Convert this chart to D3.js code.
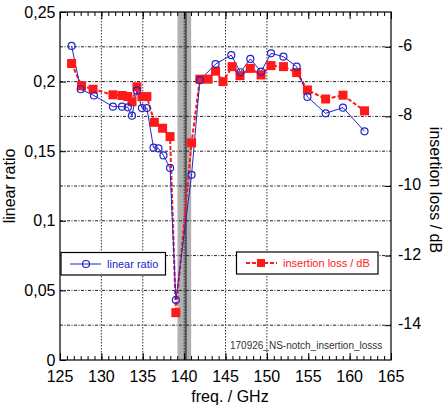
<!DOCTYPE html>
<html>
<head>
<meta charset="utf-8">
<script src="https://cdn.jsdelivr.net/npm/d3@7"></script>
<style>
  body { margin: 0; background: #fff; }
  svg { font-family: "Liberation Sans", Arial, sans-serif; }
</style>
</head>
<body>
<div id="chart"></div>
<script>
// linear ratio (left axis)
var ratioFreq = [126.4, 127.5, 129.1, 131.4, 132.5, 133.2, 133.7, 134.3, 134.9, 135.5, 136.3, 136.9, 137.5, 138.3, 139.0, 140.9, 141.9, 143.8, 145.7, 146.8, 148.0, 149.3, 150.5, 152.0, 153.6, 154.9, 157.1, 159.2, 161.8];
var ratioVal  = [0.2256, 0.1945, 0.190, 0.182, 0.182, 0.1815, 0.1755, 0.1935, 0.181, 0.181, 0.1525, 0.152, 0.147, 0.138, 0.0431, 0.133, 0.201, 0.2126, 0.219, 0.2067, 0.2163, 0.2071, 0.2203, 0.2179, 0.2107, 0.189, 0.1772, 0.1813, 0.1643];
// insertion loss / dB (right axis)
var lossFreq = [126.4, 127.6, 129.0, 131.4, 132.5, 133.2, 133.7, 134.3, 134.9, 135.5, 136.4, 137.4, 138.3, 139.0, 140.9, 141.9, 142.9, 143.8, 144.7, 145.8, 146.75, 148.0, 149.3, 150.5, 152.0, 153.6, 154.9, 157.1, 159.2, 161.8];
var lossVal  = [-6.48, -7.12, -7.22, -7.38, -7.40, -7.43, -7.58, -7.15, -7.43, -7.43, -8.17, -8.34, -8.58, -13.64, -8.76, -6.93, -6.93, -6.70, -7.0, -6.57, -6.83, -6.62, -6.81, -6.54, -6.57, -6.74, -7.24, -7.5, -7.39, -7.84];

var xTicks = [125, 130, 135, 140, 145, 150, 155, 160, 165];
var xGrid = [130, 135, 140, 145, 150];
var leftTicks = [0, 0.05, 0.1, 0.15, 0.2, 0.25];
var leftLabels = ["0", "0,05", "0,1", "0,15", "0,2", "0,25"];
var rightTicks = [-14, -12, -10, -8, -6];
var notchBand = [139.2, 140.85];
var notchLine = 140.2;

var W = 447, H = 406;
var svg = d3.select("#chart").append("svg").attr("width", W).attr("height", H);

var x = d3.scaleLinear().domain([125, 165]).range([60, 391]);
var yL = d3.scaleLinear().domain([0, 0.25]).range([360, 12]);
var yR = d3.scaleLinear().domain([-15, -5]).range([360, 12]);

var blue = "#2424c8", red = "#ff1a1a";

// notch band
svg.append("rect")
  .attr("x", x(notchBand[0])).attr("y", yL(0.25))
  .attr("width", x(notchBand[1]) - x(notchBand[0]))
  .attr("height", yL(0) - yL(0.25))
  .attr("fill", "#b0b0b0");
svg.append("line")
  .attr("x1", x(notchLine)).attr("x2", x(notchLine))
  .attr("y1", yL(0.25)).attr("y2", yL(0))
  .attr("stroke", "#505050").attr("stroke-width", 2);

// grid lines
var grid = svg.append("g");
grid.selectAll(".hl").data(leftTicks.slice(1, -1)).enter().append("line")
  .attr("x1", x(125)).attr("x2", x(165))
  .attr("y1", d => yL(d)).attr("y2", d => yL(d))
  .attr("stroke", "#222").attr("stroke-width", 1).attr("stroke-dasharray", "3,1.5,1,1.5");
grid.selectAll(".hr").data(rightTicks).enter().append("line")
  .attr("x1", x(125)).attr("x2", x(165))
  .attr("y1", d => yR(d)).attr("y2", d => yR(d))
  .attr("stroke", "#222").attr("stroke-width", 1).attr("stroke-dasharray", "3,1.5,1,1.5");
grid.selectAll(".v").data(xGrid).enter().append("line")
  .attr("x1", d => x(d)).attr("x2", d => x(d))
  .attr("y1", yL(0.25)).attr("y2", yL(0))
  .attr("stroke", "#333").attr("stroke-width", 1).attr("stroke-dasharray", "1.5,1.5");

// axes
var minor = d3.range(125, 165.01, 5 / 6);
svg.append("g").attr("transform", "translate(0," + yL(0) + ")")
  .call(d3.axisTop(x).tickValues(minor).tickSize(4).tickFormat(""))
  .call(g => g.select(".domain").remove());
svg.append("g").attr("transform", "translate(0," + yL(0.25) + ")")
  .call(d3.axisBottom(x).tickValues(minor).tickSize(4).tickFormat(""))
  .call(g => g.select(".domain").remove());
svg.append("g").attr("transform", "translate(0," + yL(0) + ")")
  .call(d3.axisTop(x).tickValues(xTicks).tickSize(7).tickFormat(""))
  .call(g => g.select(".domain").remove());
svg.append("g").attr("transform", "translate(0," + yL(0.25) + ")")
  .call(d3.axisBottom(x).tickValues(xTicks).tickSize(7).tickFormat(""))
  .call(g => g.select(".domain").remove());
svg.append("g").attr("transform", "translate(" + x(165) + ",0)")
  .call(d3.axisLeft(yR).tickValues(rightTicks).tickSize(6).tickFormat(""))
  .call(g => g.select(".domain").remove());
svg.append("g").attr("transform", "translate(" + x(125) + ",0)")
  .call(d3.axisRight(yL).tickValues(leftTicks).tickSize(6).tickFormat(""))
  .call(g => g.select(".domain").remove());

svg.append("rect")
  .attr("x", x(125)).attr("y", yL(0.25))
  .attr("width", x(165) - x(125)).attr("height", yL(0) - yL(0.25))
  .attr("fill", "none").attr("stroke", "#000").attr("stroke-width", 1.2);

// tick labels
svg.append("g").selectAll("text").data(xTicks).enter().append("text")
  .attr("x", d => x(d)).attr("y", 381.5)
  .attr("text-anchor", "middle").attr("font-size", 16).text(d => d);
svg.append("g").selectAll("text").data(leftTicks).enter().append("text")
  .attr("x", 55.5).attr("y", d => yL(d) + 5.5)
  .attr("text-anchor", "end").attr("font-size", 16).text((d, i) => leftLabels[i]);
svg.append("g").selectAll("text").data(rightTicks).enter().append("text")
  .attr("x", 398).attr("y", d => yR(d) + 4)
  .attr("text-anchor", "start").attr("font-size", 16).text(d => "-" + Math.abs(d));

// axis titles
svg.append("text").attr("x", 230).attr("y", 402).attr("text-anchor", "middle")
  .attr("font-size", 16).text("freq. / GHz");
svg.append("text").attr("transform", "translate(15,186) rotate(-90)")
  .attr("text-anchor", "middle").attr("font-size", 16).text("linear ratio");
svg.append("text").attr("transform", "translate(430,190) rotate(90)")
  .attr("text-anchor", "middle").attr("font-size", 16).text("insertion loss / dB");

// series
var lineL = d3.line().x((d, i) => x(ratioFreq[i])).y(d => yL(d));
var lineR = d3.line().x((d, i) => x(lossFreq[i])).y(d => yR(d));

svg.append("path").datum(lossVal).attr("d", lineR)
  .attr("fill", "none").attr("stroke", red).attr("stroke-width", 2).attr("stroke-dasharray", "4,2");
svg.append("path").datum(ratioVal).attr("d", lineL)
  .attr("fill", "none").attr("stroke", blue).attr("stroke-width", 1);

svg.append("g").selectAll("rect").data(lossVal).enter().append("rect")
  .attr("x", (d, i) => x(lossFreq[i]) - 4.5).attr("y", d => yR(d) - 4.5)
  .attr("width", 9).attr("height", 9).attr("fill", red);
svg.append("g").selectAll("circle").data(ratioVal).enter().append("circle")
  .attr("cx", (d, i) => x(ratioFreq[i])).attr("cy", d => yL(d)).attr("r", 3.5)
  .attr("fill", "none").attr("stroke", blue).attr("stroke-width", 1.2);

// legends
var lg1 = svg.append("g");
lg1.append("rect").attr("x", 61).attr("y", 252.5).attr("width", 104.5).attr("height", 22.5)
  .attr("fill", "#fff").attr("stroke", "#000").attr("stroke-width", 1.2);
lg1.append("line").attr("x1", 70).attr("x2", 101).attr("y1", 264).attr("y2", 264)
  .attr("stroke", blue).attr("stroke-width", 1);
lg1.append("circle").attr("cx", 86).attr("cy", 264).attr("r", 3.5)
  .attr("fill", "none").attr("stroke", blue).attr("stroke-width", 1.2);
lg1.append("text").attr("x", 107).attr("y", 268).attr("font-size", 11)
  .attr("fill", blue).text("linear ratio");

var lg2 = svg.append("g");
lg2.append("rect").attr("x", 236.5).attr("y", 252).attr("width", 141.5).attr("height", 22)
  .attr("fill", "#fff").attr("stroke", "#000").attr("stroke-width", 1.2);
lg2.append("line").attr("x1", 246).attr("x2", 277).attr("y1", 263).attr("y2", 263)
  .attr("stroke", red).attr("stroke-width", 2).attr("stroke-dasharray", "4,2");
lg2.append("rect").attr("x", 257).attr("y", 259).attr("width", 8).attr("height", 8).attr("fill", red);
lg2.append("text").attr("x", 283).attr("y", 267).attr("font-size", 11)
  .attr("fill", red).text("insertion loss / dB");

// file note
svg.append("text").attr("x", 230).attr("y", 349).attr("font-size", 10)
  .attr("fill", "#333").text("170926_NS-notch_insertion_losss");
</script>
</body>
</html>
